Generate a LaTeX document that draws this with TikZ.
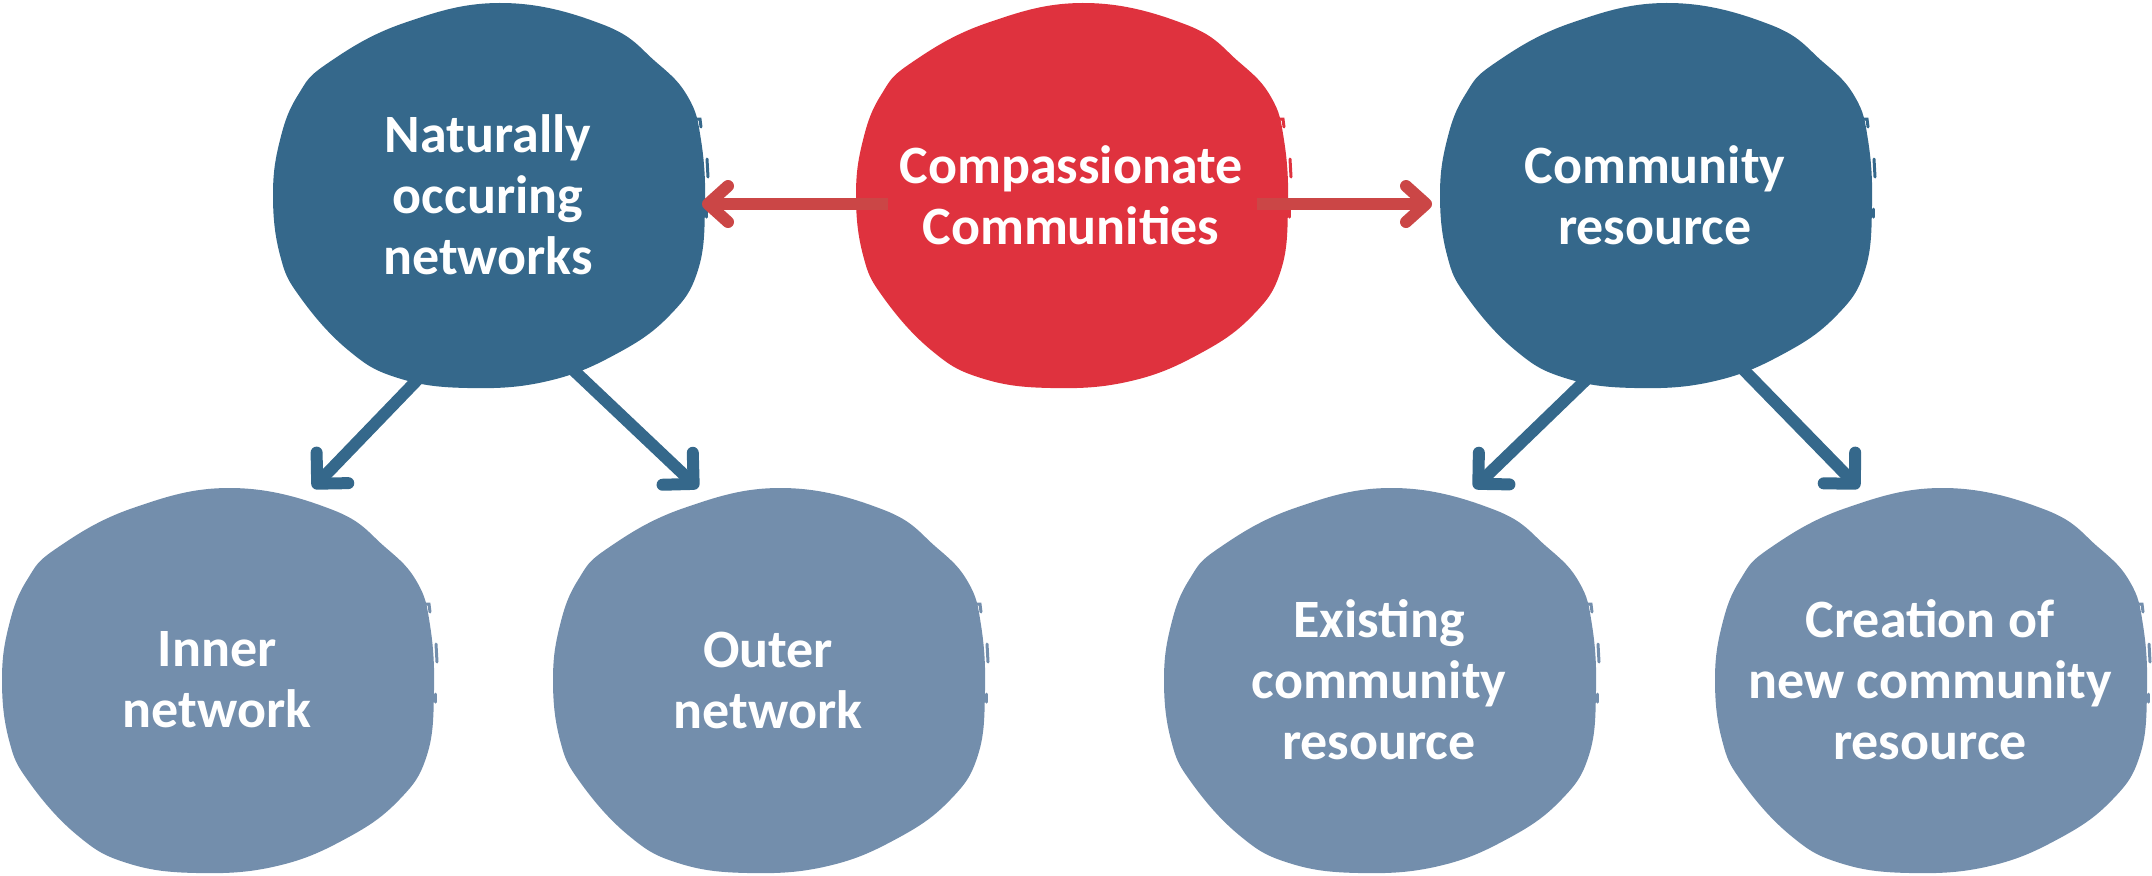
\documentclass[tikz,border=0pt]{standalone}
\usepackage{fontspec}
\setmainfont{Carlito}
\usetikzlibrary{arrows.meta,calc}
\definecolor{dblue}{RGB}{53,104,139}
\definecolor{lblue}{RGB}{115,142,172}
\definecolor{cred}{RGB}{223,50,62}
\definecolor{ared}{RGB}{203,70,70}
\tikzset{
  pics/blob/.style={code={
    \fill[#1] plot[smooth cycle, tension=0.7] coordinates {(-215,0) (-208,-55) (-190,-100) (-160,-132) (-84,-172) (15,-192) (116,-170) (168,-133) (200,-98) (213,-55) (217,10) (210,75) (182,120) (130,158) (60,186) (-20,193) (-90,183) (-140,155) (-188,102) (-208,60)};
    \draw[#1, line width=1.5pt, line cap=round] (204,-76) -- (212,-76) -- (213,-68);
    \draw[#1, line width=1.5pt, line cap=round] (219,-36) -- (220,-18);
    \draw[#1, line width=1.5pt, line cap=round] (218,14) -- (218,22);
  }},
  lbl/.style={text=white, align=center, font=\bfseries\fontsize{27}{30.5}\selectfont, inner sep=0pt},
  barrow/.style={draw=dblue, line width=6pt, -{Straight Barb[length=11pt,width=22pt,round]}},
  rarrow/.style={draw=ared, line width=6pt, -{Straight Barb[length=10pt,width=18pt,round]}},
}
\begin{document}
\begin{tikzpicture}[x=0.5pt,y=-0.5pt]
\useasboundingbox (0,0) rectangle (2152,875);
% blob shapes
\pic at (488,195) {blob=dblue};
\pic at (1071,195) {blob=cred};
\pic at (1655,195) {blob=dblue};
\pic at (217,680) {blob=lblue};
\pic at (768,680) {blob=lblue};
\pic at (1379,680) {blob=lblue};
\pic at (1930,680) {blob=lblue};
% labels
\node[lbl] (A) at (488,195) {Naturally\\occuring\\networks};
\node[lbl] (R) at (1071,195) {Compassionate\\Communities};
\node[lbl] (C) at (1655,195) {Community\\resource};
\node[lbl] (D) at (217,680) {Inner\\network};
\node[lbl] (E) at (768,680) {Outer\\network};
\node[lbl] (F) at (1379,680) {Existing\\community\\resource};
\node[lbl] (G) at (1930,680) {Creation of\\new community\\resource};
% connectors
\draw[rarrow] ($(R)+(-183,9)$) -- ($(A)+(214,9)$);
\draw[rarrow] ($(R)+(186,9)$) -- ($(C)+(-223,9)$);
\draw[barrow] ($(A)+(-66,180)$) -- ($(D)+(96,-192)$);
\draw[barrow] ($(A)+(80,170)$) -- ($(E)+(-70,-192)$);
\draw[barrow] ($(C)+(-64,180)$) -- ($(F)+(95,-192)$);
\draw[barrow] ($(C)+(82,168)$) -- ($(G)+(-71,-192)$);
\end{tikzpicture}
\end{document}
